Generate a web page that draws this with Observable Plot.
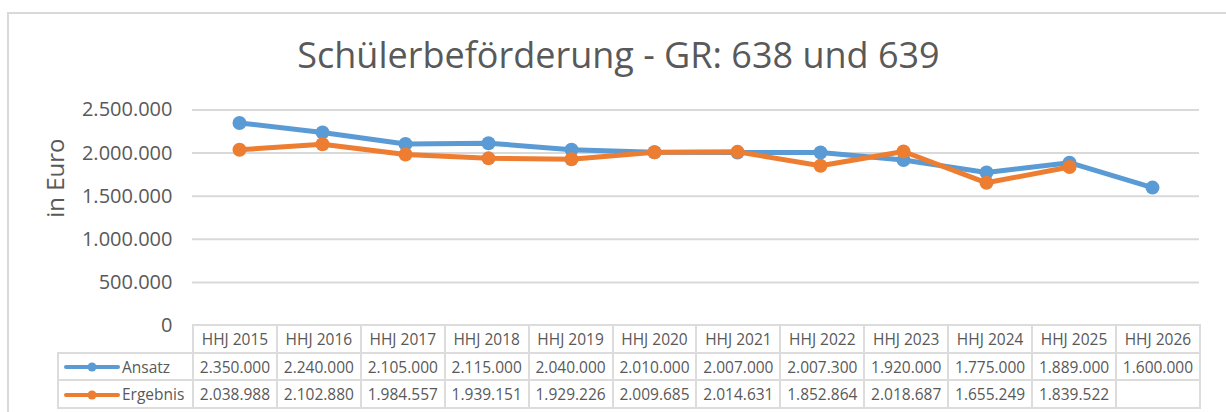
<!DOCTYPE html>
<html>
<head>
<meta charset="utf-8">
<script src="https://cdn.jsdelivr.net/npm/d3@7"></script>
<script src="https://cdn.jsdelivr.net/npm/@observablehq/plot@0.6"></script>
<style>
  html, body { margin: 0; padding: 0; background: #fff; }
  #wrap { position: relative; width: 1226px; height: 412px; overflow: hidden; background: #fff; font-family: "Open Sans", sans-serif; }
  #wrap svg.plot { position: absolute; left: 0; top: 0; }
  #frame { position: absolute; left: 7px; top: 12px; width: 1260px; height: 440px; border: 2px solid #d9d9d9; box-sizing: border-box; pointer-events: none; }
  table.dt { position: absolute; left: 57px; top: 324px; border-collapse: collapse; table-layout: fixed; width: 1143px; font-family: "Open Sans", sans-serif; font-size: 15.5px; color: #595959; }
  table.dt td { border: 2px solid #dcdcdc; height: 25.7px; padding: 0; text-align: center; white-space: nowrap; overflow: hidden; line-height: 24px; }
  table.dt td.blank { border-top: none; border-left: none; }
  table.dt td.leg { text-align: left; }
  table.dt td.leg svg { vertical-align: middle; margin-left: 5px; margin-right: 2px; position: relative; top: -1px; }
</style>
</head>
<body>
<div id="wrap"></div>
<script>
const title = "Schülerbeförderung - GR: 638 und 639";
const yLabel = "in Euro";
const categories = ["HHJ 2015","HHJ 2016","HHJ 2017","HHJ 2018","HHJ 2019","HHJ 2020","HHJ 2021","HHJ 2022","HHJ 2023","HHJ 2024","HHJ 2025","HHJ 2026"];
const seriesNames = ["Ansatz", "Ergebnis"];
const seriesColors = ["#5B9BD5", "#ED7D31"];
const ansatz = [2350000, 2240000, 2105000, 2115000, 2040000, 2010000, 2007000, 2007300, 1920000, 1775000, 1889000, 1600000];
const ergebnis = [2038988, 2102880, 1984557, 1939151, 1929226, 2009685, 2014631, 1852864, 2018687, 1655249, 1839522, null];
const yTicks = [0, 500000, 1000000, 1500000, 2000000, 2500000];

const de = d3.formatLocale({decimal: ",", thousands: ".", grouping: [3], currency: ["", " €"]});
const fmt = de.format(",d");

const seriesValues = [ansatz, ergebnis];
const rows = [];
seriesValues.forEach((vals, s) => vals.forEach((v, i) => { if (v != null) rows.push({series: seriesNames[s], cat: categories[i], v}); }));

const W = 1226, H = 412;
const mL = 192, mR = 27, mT = 109.5, mB = 87;

const chart = Plot.plot({
  width: W, height: H,
  marginLeft: mL, marginRight: mR, marginTop: mT, marginBottom: mB,
  style: {fontFamily: "'Open Sans', sans-serif", color: "#595959", background: "transparent", overflow: "visible"},
  x: {type: "point", domain: categories, padding: 0.5, axis: null},
  y: {domain: [0, 2500000], axis: null},
  marks: [
    Plot.ruleY(yTicks.filter(d => d > 0), {stroke: "#d9d9d9", strokeWidth: 2}),
    Plot.axisY({ticks: yTicks, tickSize: 0, tickPadding: 20, fontSize: 20, tickFormat: fmt, label: null, fill: "#595959"}),
    ...seriesNames.map((name, s) => [
      Plot.line(rows.filter(d => d.series === name), {x: "cat", y: "v", stroke: seriesColors[s], strokeWidth: 5, strokeLinejoin: "round", strokeLinecap: "round"}),
      Plot.dot(rows.filter(d => d.series === name), {x: "cat", y: "v", r: 7, fill: seriesColors[s], stroke: "none"})
    ]).flat(),
    Plot.text([yLabel], {frameAnchor: "left", dx: -136, rotate: -90, fontSize: 24, fill: "#595959"}),
    Plot.text([title], {frameAnchor: "top", dx: 618 - (mL + (W - mR)) / 2, dy: -54, fontSize: 36, fill: "#595959", lineAnchor: "middle"})
  ]
});

const wrap = document.getElementById("wrap");
wrap.appendChild(chart);

// data table below the plot
const table = document.createElement("table");
table.className = "dt";
const colgroup = document.createElement("colgroup");
const c0 = document.createElement("col"); c0.style.width = "135px"; colgroup.appendChild(c0);
categories.forEach(() => { const c = document.createElement("col"); c.style.width = ((W - mR - mL) / categories.length) + "px"; colgroup.appendChild(c); });
table.appendChild(colgroup);

const hr = document.createElement("tr");
const blank = document.createElement("td"); blank.className = "blank"; hr.appendChild(blank);
categories.forEach(c => { const td = document.createElement("td"); td.textContent = c; hr.appendChild(td); });
table.appendChild(hr);

seriesNames.forEach((name, s) => {
  const tr = document.createElement("tr");
  const lg = document.createElement("td"); lg.className = "leg";
  lg.innerHTML = `<svg width="56" height="10"><line x1="2" y1="5" x2="54" y2="5" stroke="${seriesColors[s]}" stroke-width="4" stroke-linecap="round"/><circle cx="28" cy="5" r="4.5" fill="${seriesColors[s]}"/></svg>${name}`;
  tr.appendChild(lg);
  seriesValues[s].forEach(v => { const td = document.createElement("td"); td.textContent = v == null ? "" : fmt(v); tr.appendChild(td); });
  table.appendChild(tr);
});
wrap.appendChild(table);

const frame = document.createElement("div");
frame.id = "frame";
wrap.appendChild(frame);
</script>
</body>
</html>
